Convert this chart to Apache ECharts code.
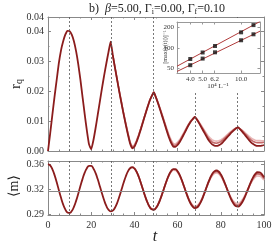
<!DOCTYPE html>
<html><head><meta charset="utf-8">
<script src="https://cdn.jsdelivr.net/npm/echarts@6/dist/echarts.min.js"></script>
<style>html,body{margin:0;padding:0;background:#fff}#c{width:278px;height:251px}</style>
</head><body><div id="c"></div>
<script>
// ---------- data ----------
const tAll = [0,1,2,3,4,5,6,7,8,9,10,11,12,13,14,15,16,17,18,19,20,21,22,23,24,25,26,27,28,29,30,31,32,33,34,35,36,37,38,39,40,41,42,43,44,45,46,47,48,49,50,51,52,53,54,55,56,57,58,59,60,61,62,63,64,65,66,67,68,69,70,71,72,73,74,75,76,77,78,79,80,81,82,83,84,85,86,87,88,89,90,91,92,93,94,95,96,97,98,99,100];
const tLateR = tAll.slice(30);
const tLateM = tAll.slice(40);

const rqDark = [0,0.0058,0.0120,0.0180,0.0236,0.0292,0.0335,0.0365,0.0388,0.0401,0.0400,0.0388,0.0366,0.0333,0.0290,0.0238,0.0180,0.0122,0.0068,0.0022,0.0006,0.0035,0.0075,0.0120,0.0165,0.0210,0.0252,0.0292,0.0330,0.0365,
0.0320,0.0278,0.0238,0.0198,0.0160,0.0123,0.0088,0.0055,0.0025,0.0009,0.0014,0.0030,0.0050,0.0073,0.0097,0.0121,0.0144,0.0166,0.0183,0.0196,
0.0178,0.0158,0.0136,0.0113,0.0090,0.0067,0.0045,0.0027,0.0015,0.0014,0.0020,0.0030,0.0043,0.0057,0.0071,0.0085,0.0097,0.0106,0.0114,
0.0104,0.0092,0.0079,0.0066,0.0053,0.0040,0.0030,0.0022,0.0018,0.0017,0.0019,0.0023,0.0030,0.0038,0.0046,0.0054,0.0062,0.0069,0.0075,0.0079,
0.0072,0.0064,0.0055,0.0046,0.0037,0.0029,0.0023,0.0019,0.0017,0.0017,0.0018,0.0020];
const rqMed = [0.0320,0.0278,0.0239,0.0199,0.0162,0.0125,0.0091,0.0058,0.0028,0.0012,0.0017,0.0033,0.0053,0.0075,0.0099,0.0122,0.0145,0.0167,0.0183,0.0196,
0.0179,0.0159,0.0138,0.0116,0.0093,0.0071,0.0049,0.0032,0.0020,0.0019,0.0025,0.0034,0.0047,0.0060,0.0074,0.0087,0.0099,0.0107,0.0114,
0.0105,0.0094,0.0082,0.0070,0.0058,0.0046,0.0037,0.0030,0.0027,0.0026,0.0028,0.0031,0.0037,0.0044,0.0051,0.0058,0.0065,0.0071,0.0076,0.0079,
0.0073,0.0067,0.0059,0.0052,0.0044,0.0037,0.0032,0.0029,0.0028,0.0028,0.0028,0.0029];
const rqLight = [0.0320,0.0279,0.0239,0.0200,0.0163,0.0127,0.0093,0.0061,0.0031,0.0015,0.0020,0.0036,0.0055,0.0077,0.0100,0.0123,0.0146,0.0167,0.0183,0.0196,
0.0179,0.0160,0.0140,0.0119,0.0097,0.0075,0.0054,0.0037,0.0025,0.0024,0.0030,0.0038,0.0050,0.0063,0.0076,0.0089,0.0100,0.0108,0.0114,
0.0106,0.0096,0.0085,0.0074,0.0063,0.0052,0.0044,0.0037,0.0034,0.0033,0.0034,0.0037,0.0042,0.0048,0.0055,0.0061,0.0067,0.0072,0.0077,0.0079,
0.0074,0.0069,0.0063,0.0056,0.0050,0.0044,0.0039,0.0036,0.0035,0.0035,0.0034,0.0034];

const mDark = [0.3574,0.3555,0.3503,0.3423,0.3323,0.3214,0.3108,0.3014,0.2944,0.2902,0.2895,0.2921,0.2979,0.3062,0.3162,0.3268,0.3368,0.3454,0.3516,0.3548,
0.3547,0.3513,0.3450,0.3365,0.3266,0.3165,0.3070,0.2992,0.2940,0.2916,0.2926,0.2966,0.3032,0.3119,0.3216,0.3313,0.3401,0.3471,0.3515,0.3529,
0.3513,0.3467,0.3397,0.3311,0.3216,0.3124,0.3043,0.2981,0.2946,0.2939,0.2963,0.3013,0.3085,0.3171,0.3262,0.3349,0.3423,0.3476,0.3504,
0.3503,0.3473,0.3419,0.3346,0.3261,0.3174,0.3092,0.3026,0.2981,0.2961,0.2969,0.3004,0.3061,0.3135,0.3217,0.3301,0.3376,0.3435,0.3472,
0.3484,0.3470,0.3431,0.3372,0.3298,0.3218,0.3140,0.3071,0.3019,0.2989,0.2984,0.3004,0.3047,0.3107,0.3180,0.3257,0.3330,0.3392,0.3437,0.3460,
0.3458,0.3434,0.3388];
const mMed = [0.3513,0.3467,0.3397,0.3311,0.3216,0.3125,0.3045,0.2983,0.2949,0.2943,0.2967,0.3016,0.3088,0.3172,0.3261,0.3346,0.3418,0.3470,0.3497,
0.3495,0.3466,0.3413,0.3342,0.3260,0.3176,0.3097,0.3034,0.2991,0.2973,0.2981,0.3015,0.3069,0.3140,0.3218,0.3297,0.3368,0.3423,0.3457,
0.3468,0.3455,0.3418,0.3362,0.3293,0.3219,0.3147,0.3083,0.3035,0.3008,0.3004,0.3023,0.3063,0.3118,0.3184,0.3254,0.3320,0.3376,0.3416,0.3437,
0.3434,0.3412,0.3371];
const mLight = [0.3513,0.3466,0.3396,0.3310,0.3216,0.3126,0.3047,0.2986,0.2953,0.2947,0.2971,0.3021,0.3091,0.3173,0.3260,0.3343,0.3413,0.3462,0.3488,
0.3486,0.3457,0.3406,0.3337,0.3259,0.3178,0.3104,0.3044,0.3004,0.2987,0.2995,0.3027,0.3079,0.3145,0.3218,0.3292,0.3358,0.3409,0.3440,
0.3449,0.3436,0.3402,0.3351,0.3287,0.3220,0.3154,0.3097,0.3055,0.3031,0.3028,0.3045,0.3081,0.3130,0.3190,0.3251,0.3309,0.3357,0.3392,0.3408,
0.3406,0.3386,0.3350];

const tDash = [9.75, 29.25, 48.75, 68.25, 87.75];
const mEq = 0.3225;
const mTicks = [0.288, 0.3225, 0.357];

// inset
const invL = [4.0, 5.0, 6.25, 10.0, 12.5];
const inUpper = [69, 86, 107, 170, 217];
const inLower = [56, 70, 86.5, 130, 159];
const fitX = [3.15, 14.06];
const fitUpper = [54.1, 245];
const fitLower = [45.3, 176.7];
const inXTicks = [4.0, 5.0, 6.2, 10.0];
const inYTicks = [50, 100, 200];

// ---------- chart ----------
const FONT = '"Liberation Serif","DejaVu Serif",serif';
const AX = '#888';
const TXT = '#333';
const C_DARK = '#8b1c1c', C_MED = '#c46a6a', C_LIGHT = '#e9b7b7';
const pair = (xs, ys) => ys.map((v, i) => [xs[i], v]);

function ax(o) {
  const base = {
    axisLine: {show: true, onZero: false, lineStyle: {color: AX, width: 1}},
    axisTick: {show: true, inside: true, length: 3, lineStyle: {color: AX}},
    splitLine: {show: false},
    axisLabel: {show: false}
  };
  return Object.assign(base, o);
}
const lblStyle = (sz, m) => ({show: true, fontFamily: FONT, fontSize: sz, color: TXT, margin: m});

const chart = echarts.init(document.getElementById('c'), null, {renderer: 'canvas'});
const option = {
  animation: false,
  backgroundColor: '#fff',
  grid: [
    {left: 48, top: 17, width: 216, height: 134},
    {left: 48, top: 161, width: 216, height: 54},
    {left: 177, top: 22, width: 83, height: 51, z: 60}
  ],
  xAxis: [
    ax({gridIndex: 0, type: 'value', min: 0, max: 100, interval: 20, minorTick: {show: true, splitNumber: 4, length: 1.5, lineStyle: {color: AX}}}),
    ax({gridIndex: 0, type: 'value', position: 'top', min: 0, max: 100, interval: 20, minorTick: {show: true, splitNumber: 4, length: 1.5, lineStyle: {color: AX}}}),
    ax({gridIndex: 1, type: 'value', min: 0, max: 100, interval: 20, axisLabel: lblStyle(10, 5), minorTick: {show: true, splitNumber: 4, length: 1.5, lineStyle: {color: AX}}}),
    ax({gridIndex: 1, type: 'value', position: 'top', min: 0, max: 100, interval: 20, minorTick: {show: true, splitNumber: 4, length: 1.5, lineStyle: {color: AX}}}),
    ax({gridIndex: 2, type: 'log', min: 3.15, max: 14.06, z: 60,
        axisLine: {show: true, onZero: false, lineStyle: {color: '#999', width: 1}},
        axisTick: {show: true, inside: true, length: 2.5, customValues: inXTicks, lineStyle: {color: '#999'}},
        axisLabel: Object.assign(lblStyle(7, 3), {customValues: inXTicks, formatter: v => Number(v).toFixed(1)})}),
    ax({gridIndex: 2, type: 'log', position: 'top', min: 3.15, max: 14.06, z: 60,
        axisLine: {show: true, onZero: false, lineStyle: {color: '#999', width: 1}},
        axisTick: {show: true, inside: true, length: 2.5, customValues: inXTicks, lineStyle: {color: '#999'}}})
  ],
  yAxis: [
    ax({gridIndex: 0, type: 'value', min: 0, max: 0.0447, interval: 0.01, axisLabel: Object.assign(lblStyle(10, 4), {formatter: v => v.toFixed(2)}),
        minorTick: {show: true, splitNumber: 2, length: 1.5, lineStyle: {color: AX}}}),
    ax({gridIndex: 0, type: 'value', position: 'right', min: 0, max: 0.0447, interval: 0.01,
        minorTick: {show: true, splitNumber: 2, length: 1.5, lineStyle: {color: AX}}}),
    ax({gridIndex: 1, type: 'value', min: 0.2866, max: 0.3616,
        axisTick: {show: true, inside: true, length: 3, customValues: mTicks, lineStyle: {color: AX}},
        axisLabel: Object.assign(lblStyle(10, 4), {customValues: mTicks, formatter: v => Number(v).toFixed(2)})}),
    ax({gridIndex: 1, type: 'value', position: 'right', min: 0.2866, max: 0.3616,
        axisTick: {show: true, inside: true, length: 3, customValues: mTicks, lineStyle: {color: AX}}}),
    ax({gridIndex: 2, type: 'log', min: 43, max: 241, z: 60,
        axisLine: {show: true, onZero: false, lineStyle: {color: '#999', width: 1}},
        axisTick: {show: true, inside: true, length: 2.5, customValues: inYTicks, lineStyle: {color: '#999'}},
        axisLabel: Object.assign(lblStyle(7, 3), {customValues: inYTicks})}),
    ax({gridIndex: 2, type: 'log', position: 'right', min: 43, max: 241, z: 60,
        axisLine: {show: true, onZero: false, lineStyle: {color: '#999', width: 1}},
        axisTick: {show: true, inside: true, length: 2.5, customValues: inYTicks, lineStyle: {color: '#999'}}})
  ],
  graphic: [
    {type: 'rect', z: 50, shape: {x: 158, y: 18, width: 103, height: 75}, style: {fill: '#fff'}},
    {type: 'text', z: 70, x: 157, y: 9, style: {text: 'b)  {i|β}=5.00, Γ{s|i}=0.00, Γ{s|f}=0.10', font: '12px ' + FONT, fill: '#222', align: 'center', verticalAlign: 'middle',
      rich: {i: {fontStyle: 'italic', fontSize: 12, fontFamily: FONT, fill: '#222'}, s: {fontSize: 8, fontFamily: FONT, fill: '#222', padding: [6, 0, 0, 0]}}}},
    {type: 'text', z: 70, x: 16, y: 84, rotation: Math.PI / 2, style: {text: 'r{s|q}', font: '15px ' + FONT, fill: '#222', align: 'center', verticalAlign: 'middle',
      rich: {s: {fontSize: 10, fontFamily: FONT, fill: '#222', padding: [7, 0, 0, 0]}}}},
    {type: 'text', z: 70, x: 14, y: 186, rotation: Math.PI / 2, style: {text: '⟨m⟩', font: '14px ' + FONT, fill: '#222', align: 'center', verticalAlign: 'middle'}},
    {type: 'text', z: 70, x: 155, y: 237, style: {text: 't', font: 'italic 16px ' + FONT, fill: '#222', align: 'center', verticalAlign: 'middle'}},
    {type: 'text', z: 70, x: 218, y: 86, style: {text: '10⁴ L⁻¹', font: '7px ' + FONT, fill: '#333', align: 'center', verticalAlign: 'middle'}},
    {type: 'text', z: 70, x: 165, y: 47, rotation: Math.PI / 2, style: {text: '[max(|r(t)|)]⁻¹', font: '6px ' + FONT, fill: '#333', align: 'center', verticalAlign: 'middle'}}
  ],
  series: [
    {type: 'line', xAxisIndex: 0, yAxisIndex: 0, data: pair(tLateR, rqLight), showSymbol: false, lineStyle: {color: C_LIGHT, width: 1.6}, z: 2},
    {type: 'line', xAxisIndex: 0, yAxisIndex: 0, data: pair(tLateR, rqMed), showSymbol: false, lineStyle: {color: C_MED, width: 1.6}, z: 3},
    {type: 'line', xAxisIndex: 0, yAxisIndex: 0, data: pair(tAll, rqDark), showSymbol: false, smooth: 0.15, lineStyle: {color: C_DARK, width: 1.8}, z: 4,
      markLine: {silent: true, symbol: 'none', label: {show: false}, lineStyle: {type: [2, 2], color: '#555', width: 0.8}, data: tDash.map(v => ({xAxis: v}))}},
    {type: 'line', xAxisIndex: 2, yAxisIndex: 2, data: pair(tLateM, mLight), showSymbol: false, smooth: true, lineStyle: {color: C_LIGHT, width: 1.6}, z: 2,
      markLine: {silent: true, symbol: 'none', label: {show: false}, lineStyle: {type: 'solid', color: '#888', width: 1.2}, data: [{yAxis: mEq}]}},
    {type: 'line', xAxisIndex: 2, yAxisIndex: 2, data: pair(tLateM, mMed), showSymbol: false, smooth: true, lineStyle: {color: C_MED, width: 1.6}, z: 3},
    {type: 'line', xAxisIndex: 2, yAxisIndex: 2, data: pair(tAll, mDark), showSymbol: false, smooth: true, lineStyle: {color: C_DARK, width: 1.8}, z: 4,
      markLine: {silent: true, symbol: 'none', label: {show: false}, lineStyle: {type: [2, 2], color: '#555', width: 0.8}, data: tDash.map(v => ({xAxis: v}))}},
    {type: 'line', xAxisIndex: 4, yAxisIndex: 4, data: pair(fitX, fitUpper), showSymbol: false, lineStyle: {color: '#b03a3a', width: 1}, z: 60},
    {type: 'line', xAxisIndex: 4, yAxisIndex: 4, data: pair(fitX, fitLower), showSymbol: false, lineStyle: {color: '#b03a3a', width: 1}, z: 60},
    {type: 'scatter', xAxisIndex: 4, yAxisIndex: 4, data: pair(invL, inUpper), symbol: 'rect', symbolSize: 4, itemStyle: {color: '#111'}, z: 61},
    {type: 'scatter', xAxisIndex: 4, yAxisIndex: 4, data: pair(invL, inLower), symbol: 'rect', symbolSize: 4, itemStyle: {color: '#111'}, z: 61}
  ]
};
chart.setOption(option);
</script>
</body></html>
